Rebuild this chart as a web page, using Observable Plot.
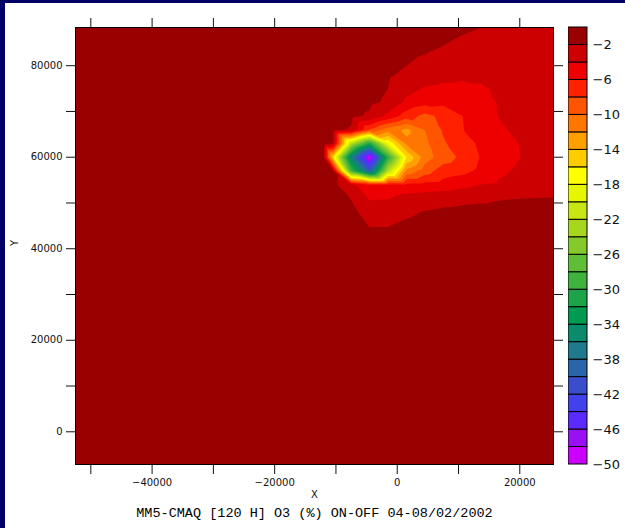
<!DOCTYPE html>
<html><head><meta charset="utf-8">
<script src="https://cdn.jsdelivr.net/npm/d3@7"></script>
<script src="https://cdn.jsdelivr.net/npm/@observablehq/plot@0.6"></script>
<style>
html,body{margin:0;padding:0;background:#000066;}
#wrap{position:relative;width:625px;height:528px;background:#000066;overflow:hidden;}
#panel{position:absolute;left:5px;top:3px;width:620px;height:525px;background:#fff;}
#main,#bar{position:absolute;top:0;}
#main{left:0;}
#bar{left:568px;}
</style></head><body>
<div id="wrap"><div id="panel"></div><div id="main"></div><div id="bar"></div></div>
<script>
// ---- data ----
const gridX = [-52500, -19500, -13500, -12000, -10500, -7500, -4500, -1500, 1500, 4500, 7500, 10500, 13500, 16500, 19500, 22500, 25500];
const gridY = [88500, 84000, 81000, 78000, 75000, 72000, 69000, 66000, 63000, 60000, 57000, 54000, 51000, 48000, 45000, 42000, 39000, -7500];
const o3Change = [
  [-1, -1, -1, -1, -1, -1, -1, -1, -1.1, -1.2, -1.4, -1.7, -1.95, -2.3, -2.5, -2.6, -2.7],
  [-1, -1, -1, -1, -1, -1, -1, -1.1, -1.4, -1.7, -2.05, -2.4, -2.7, -2.9, -3.0, -3.0, -3.0],
  [-1, -1, -1, -1, -1, -1, -1.1, -1.4, -1.85, -2.3, -2.7, -3.0, -3.2, -3.3, -3.3, -3.2, -3.1],
  [-1, -1, -1, -1, -1, -1.1, -1.3, -1.8, -2.3, -2.8, -3.3, -3.6, -3.7, -3.7, -3.6, -3.4, -3.2],
  [-1, -1, -1, -1, -1, -1.1, -1.4, -2.0, -3.3, -4.2, -4.5, -4.5, -4.2, -3.8, -3.6, -3.4, -3.2],
  [-1, -1, -1, -1, -1, -1.2, -1.6, -2.3, -4.4, -5.3, -5.5, -5.4, -4.8, -3.9, -3.5, -3.3, -3.1],
  [-1, -1, -1, -1, -1.1, -1.5, -2.3, -4.5, -7.0, -8.6, -7.5, -6.05, -5.0, -3.95, -3.6, -3.3, -3.1],
  [-1, -1, -1, -1.1, -1.3, -2.2, -8.0, -11.0, -12.5, -10.0, -7.8, -6.1, -5.3, -4.3, -3.7, -3.4, -3.2],
  [-1, -1, -1, -1.2, -1.8, -22, -31, -18, -11.5, -10.5, -8.2, -7.2, -5.6, -4.8, -4.05, -3.5, -3.2],
  [-1, -1, -1, -1.5, -15.5, -36, -49.5, -30, -16, -11, -9, -7.6, -5.95, -4.8, -4.1, -3.6, -3.3],
  [-1, -1, -1, -1.1, -1.5, -29, -40, -22, -11.5, -9, -7, -6.6, -5.6, -4.3, -3.8, -3.5, -3.3],
  [-1, -1, -1, -1.1, -1.6, -3.3, -5.8, -5.7, -5.6, -5.4, -5.2, -4.6, -4.0, -3.8, -3.5, -3.3, -3.1],
  [-1, -1, -1, -1, -1.3, -2.05, -4.2, -4.1, -3.2, -2.9, -2.6, -2.4, -2.3, -2.1, -2.02, -1.95, -1.9],
  [-1, -1, -1, -1, -1.1, -1.7, -2.5, -2.6, -2.3, -1.9, -1.7, -1.6, -1.5, -1.5, -1.4, -1.4, -1.4],
  [-1, -1, -1, -1, -1, -1.4, -2.05, -2.05, -1.7, -1.4, -1.3, -1.2, -1.2, -1.2, -1.2, -1.2, -1.2],
  [-1, -1, -1, -1, -1, -1.1, -1.5, -1.5, -1.3, -1.2, -1.1, -1.1, -1.1, -1.1, -1.1, -1.1, -1.1],
  [-1, -1, -1, -1, -1, -1, -1, -1, -1, -1, -1, -1, -1, -1, -1, -1, -1],
  [-1, -1, -1, -1, -1, -1, -1, -1, -1, -1, -1, -1, -1, -1, -1, -1, -1]
];
const contourLevels = [-50, -48, -46, -44, -42, -40, -38, -36, -34, -32, -30, -28, -26, -24, -22, -20, -18, -16, -14, -12, -10, -8, -6, -4, -2];
// label bar colours, top (above -2) to bottom (-48..-50)
const barColors = ["#990000", "#CC0000", "#EE0000", "#FF2000", "#FF5500", "#FF7700", "#FFA000", "#FFCC00", "#FFFF00",
  "#E6F500", "#C8E614", "#A6D61E", "#84CA2A", "#5EBE36", "#40B23E", "#1EA448", "#009A50",
  "#0C8A6C", "#1E7A8C", "#2A64AA", "#3A4ECC", "#4242EC", "#5A2AFF", "#9A10F5", "#CC00FF"];
const barLabels = [-2, -6, -10, -14, -18, -22, -26, -30, -34, -38, -42, -46, -50];
const xTicks = [-50000, -40000, -30000, -20000, -10000, 0, 10000, 20000];
const xLabels = [-40000, -20000, 0, 20000];
const yTicks = [0, 10000, 20000, 30000, 40000, 50000, 60000, 70000, 80000];
const yLabels = [0, 20000, 40000, 60000, 80000];
const xDomain = [-52500, 25500];
const yDomain = [-7150, 88350];
const title = "MM5-CMAQ [120 H] O3 (%) ON-OFF 04-08/02/2002";

// ---- build ----
const points = gridY.flatMap((y, i) => gridX.map((x, j) => ({x, y, v: o3Change[i][j]})));
const fmt = d => (d < 0 ? "\u2212" + (-d) : String(d));
const colorScale = {type: "threshold", domain: contourLevels.slice(1), range: barColors.slice().reverse()};

const main = Plot.plot({
  width: 625, height: 528,
  marginLeft: 75, marginRight: 72, marginTop: 27, marginBottom: 64,
  style: {background: "none", fontFamily: "DejaVu Sans", fontSize: "10px", color: "#111"},
  x: {domain: xDomain, label: null},
  y: {domain: yDomain, label: null},
  color: colorScale,
  marks: [
    Plot.contour(points, {x: "x", y: "y", fill: "v", thresholds: contourLevels, interpolate: "barycentric", pixelSize: 1}),
    Plot.frame({stroke: "#000", strokeWidth: 1}),
    Plot.axisX({ticks: xTicks, tickSize: 10, tickPadding: 4, tickFormat: d => xLabels.includes(d) ? fmt(d) : "", label: null, fontSize: 10}),
    Plot.axisX({anchor: "top", ticks: xTicks, tickSize: 10, tickFormat: () => "", label: null}),
    Plot.axisY({ticks: yTicks, tickSize: 9, tickPadding: 4, tickFormat: d => yLabels.includes(d) ? fmt(d) : "", label: null, fontSize: 10}),
    Plot.axisY({anchor: "right", ticks: yTicks, tickSize: 9, tickFormat: () => "", label: null}),
    Plot.text(["X"], {frameAnchor: "bottom", dy: 33, fontSize: 10, fill: "#111"}),
    Plot.text(["Y"], {frameAnchor: "left", dx: -61, rotate: -90, fontSize: 10, fill: "#111"}),
    Plot.text([title], {frameAnchor: "bottom", dy: 52, fontFamily: "Liberation Mono", fontSize: 13.5, fill: "#000"})
  ]
});
document.getElementById("main").appendChild(main);

const bands = contourLevels.map(lo => ({lo, hi: lo + 2}));
const bar = Plot.plot({
  width: 57, height: 528,
  marginLeft: 0, marginRight: 38, marginTop: 27, marginBottom: 64,
  style: {background: "none", fontFamily: "DejaVu Sans", fontSize: "13px", color: "#111"},
  x: {domain: [0, 1], axis: null},
  y: {domain: [-50, 0], axis: null},
  color: colorScale,
  marks: [
    Plot.rect(bands, {x1: 0, x2: 1, y1: "lo", y2: "hi", fill: "lo", stroke: "#000", strokeWidth: 1}),
    Plot.axisY({anchor: "right", ticks: barLabels, tickSize: 0, tickPadding: 5, tickFormat: fmt, label: null, fontSize: 13})
  ]
});
document.getElementById("bar").appendChild(bar);
</script>
</body></html>
